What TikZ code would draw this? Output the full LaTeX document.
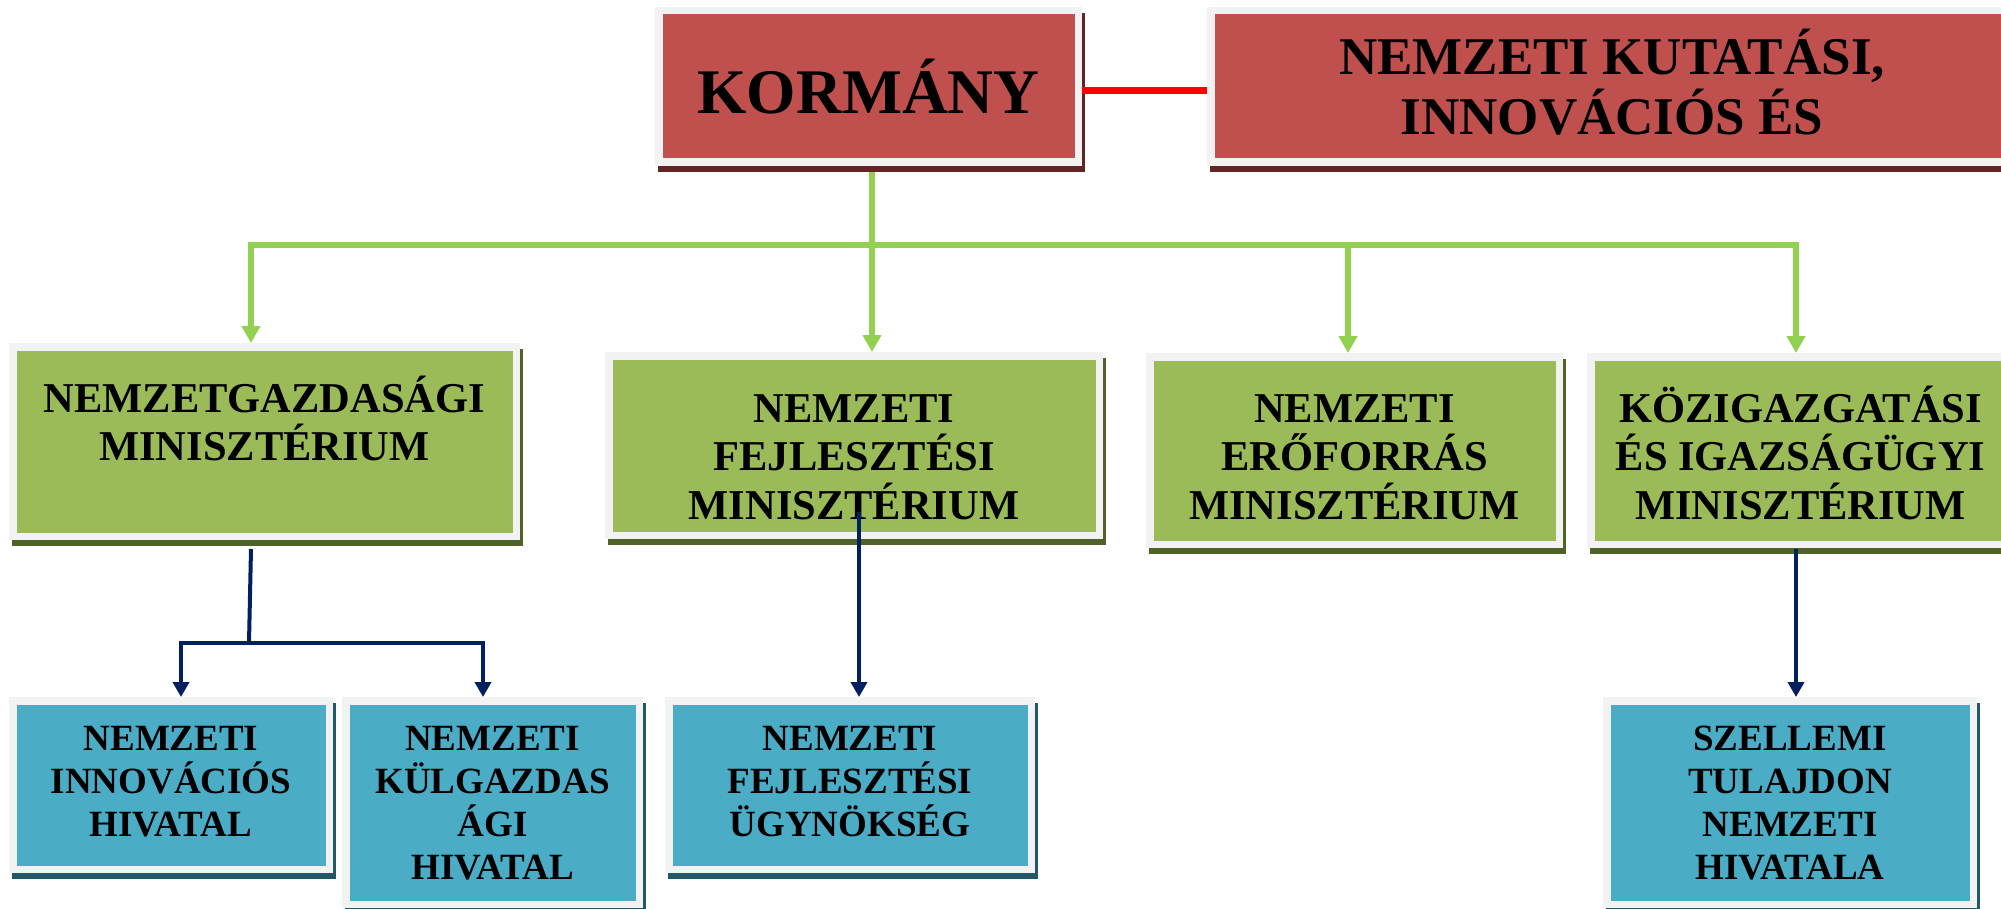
\documentclass[tikz,border=0pt]{standalone}
\usepackage{fontspec}
\setmainfont{Liberation Serif}
\usetikzlibrary{arrows.meta,shadows}
\definecolor{frameC}{HTML}{F2F2F2}
\definecolor{redF}{HTML}{C0504D}
\definecolor{redS}{HTML}{632523}
\definecolor{greenF}{HTML}{9BBB59}
\definecolor{greenS}{HTML}{4F6228}
\definecolor{blueF}{HTML}{4BACC6}
\definecolor{blueS}{HTML}{215968}
\definecolor{conG}{HTML}{92D050}
\definecolor{conN}{HTML}{002060}
\definecolor{conR}{HTML}{FF0000}
\newcommand\ostrut{\rule{0pt}{1em}}
\lineskiplimit=-100pt
\tikzset{
  orgbox/.style={rectangle, inner sep=0pt, outer sep=0pt, fill=frameC, draw=none},
  bsize/.style 2 args={minimum width=#1pt, minimum height=#2pt},
  innerfill/.style={path picture={\fill[#1] ([shift={(7.5pt,7.5pt)}]path picture bounding box.south west) rectangle ([shift={(-7.5pt,-7.5pt)}]path picture bounding box.north east);}},
  shad/.style={drop shadow={shadow xshift=3pt, shadow yshift=-6pt, fill=#1, opacity=1}},
  redbox/.style={orgbox, shad=redS, innerfill=redF},
  greenbox/.style={orgbox, shad=greenS, innerfill=greenF},
  bluebox/.style={orgbox, shad=blueS, innerfill=blueF},
  txt/.style={anchor=north, inner sep=0pt, outer sep=0pt, align=center, text=black},
  txtK/.style={txt, font=\bfseries\fontsize{63.5}{73}\selectfont},
  txtN/.style={txt, font=\bfseries\fontsize{53}{60}\selectfont},
  txtG/.style={txt, font=\bfseries\fontsize{42.5}{48.6}\selectfont},
  txtB/.style={txt, font=\bfseries\fontsize{37}{43.3}\selectfont},
  gline/.style={draw=conG, line width=6pt, line join=miter},
  gtips/.style={{Triangle[length=17pt,width=18pt]}-{Triangle[length=17pt,width=18pt]}},
  garrow/.style={gline, -{Triangle[length=17pt,width=18pt]}},
  nline/.style={draw=conN, line width=4pt, line join=miter},
  ntips/.style={{Triangle[length=15pt,width=16pt]}-{Triangle[length=15pt,width=16pt]}},
  narrow/.style={nline, -{Triangle[length=15pt,width=16pt]}},
  rline/.style={draw=conR, line width=7pt},
}
\begin{document}
\begin{tikzpicture}[x=1pt,y=-1pt]
\fill[white] (0,0) rectangle (2001,909);
\useasboundingbox (0,0) rectangle (2001,909);

% boxes
\node[redbox, bsize={427}{159}] (kor) at (868.5,86.5) {};
\node[redbox, bsize={833}{159}] (nki) at (1623.5,86.5) {};
\node[greenbox, bsize={511}{197}] (nem) at (264.5,441.5) {};
\node[greenbox, bsize={498}{187}] (nfm) at (854,445.5) {};
\node[greenbox, bsize={417}{195}] (nef) at (1354.5,450.5) {};
\node[greenbox, bsize={428}{195}] (kim) at (1801,450.5) {};
\node[bluebox, bsize={324}{176}] (nih) at (171,785) {};
\node[bluebox, bsize={301}{211}] (nkh) at (492.5,802.5) {};
\node[bluebox, bsize={370}{176}] (nfu) at (850,785) {};
\node[bluebox, bsize={374}{211}] (szt) at (1790,802.5) {};

% texts
\node[txtK] (kor-t) at (868.5,50.5) {\ostrut KORMÁNY};
\node[txtN] (nki-t) at (1612,22) {\ostrut NEMZETI KUTATÁSI,\\INNOVÁCIÓS ÉS};
\node[txtG] (nem-t) at (264.5,369.5) {\ostrut NEMZETGAZDASÁGI\\MINISZTÉRIUM};
\node[txtG] (nfm-t) at (854,379.5) {\ostrut NEMZETI\\FEJLESZTÉSI\\MINISZTÉRIUM};
\node[txtG] (nef-t) at (1354.5,379.5) {\ostrut NEMZETI\\ERŐFORRÁS\\MINISZTÉRIUM};
\node[txtG] (kim-t) at (1800.5,379.5) {\ostrut KÖZIGAZGATÁSI\\ÉS IGAZSÁGÜGYI\\MINISZTÉRIUM};
\node[txtB] (nih-t) at (171,713) {\ostrut NEMZETI\\INNOVÁCIÓS\\HIVATAL};
\node[txtB] (nkh-t) at (492.5,713) {\ostrut NEMZETI\\KÜLGAZDAS\\ÁGI\\HIVATAL};
\node[txtB] (nfu-t) at (850,713) {\ostrut NEMZETI\\FEJLESZTÉSI\\ÜGYNÖKSÉG};
\node[txtB] (szt-t) at (1790,713) {\ostrut SZELLEMI\\TULAJDON\\NEMZETI\\HIVATALA};

% helper coordinates
\coordinate (xkor) at (872,0);
\coordinate (xnem) at (251,0);
\coordinate (xnef) at (1348,0);
\coordinate (xkim) at (1796,0);
\coordinate (bus) at (0,245);
\coordinate (nj) at (249,643);
\coordinate (xnih) at (181,0);
\coordinate (xnkh) at (483,0);
\coordinate (nfmx) at (859,512);

% red link
\draw[rline] ([yshift=-4.5pt]kor.east) -- ([yshift=-4.5pt]kor.east -| nki.west);

% green connectors
\draw[gline, gtips]
  (xnem |- nem.north) -- (xnem |- bus) -- (xkim |- bus) -- (xkim |- kim.north);
\draw[garrow] ([yshift=-6pt]xkor |- kor.south) -- (xkor |- nfm.north);
\draw[garrow] (xnef |- bus) -- (xnef |- nef.north);

% navy connectors
\draw[nline] ([yshift=-9pt]xnem |- nem.south) -- (nj);
\draw[nline, ntips]
  (xnih |- nih.north) -- (xnih |- nj) -- (xnkh |- nj) -- (xnkh |- nkh.north);
\draw[narrow] (nfmx) -- (nfmx |- nfu.north);
\draw[narrow] ([yshift=-1pt]xkim |- kim.south) -- (xkim |- szt.north);
\end{tikzpicture}
\end{document}
